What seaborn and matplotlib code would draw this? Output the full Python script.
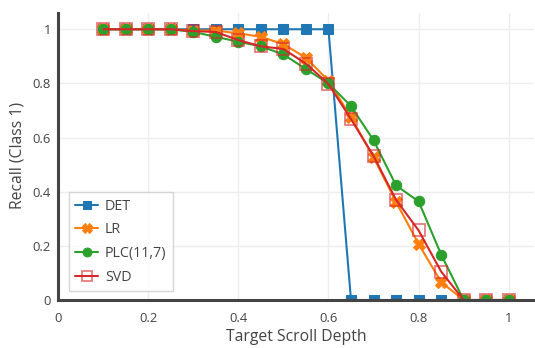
import numpy as np
import pandas as pd
import matplotlib
matplotlib.use("Agg")
import matplotlib.pyplot as plt
import seaborn as sns

depth = [0.1, 0.15, 0.2, 0.25, 0.3, 0.35, 0.4, 0.45, 0.5, 0.55,
         0.6, 0.65, 0.7, 0.75, 0.8, 0.85, 0.9, 0.95, 1.0]
det = [1, 1, 1, 1, 1, 1, 1, 1, 1, 1, 1, 0, 0, 0, 0, 0, 0, 0, 0]
lr = [1, 1, 1, 1, 0.995, 0.995, 0.985, 0.972, 0.945, 0.895,
      0.81, 0.675, 0.527, 0.362, 0.207, 0.066, 0, 0, 0]
plc = [1, 1, 1, 1, 0.99, 0.972, 0.954, 0.937, 0.907, 0.853,
       0.8, 0.716, 0.590, 0.423, 0.364, 0.168, 0, 0, 0]
svd = [1, 1, 1, 1, 0.993, 0.99, 0.96, 0.937, 0.927, 0.873,
       0.798, 0.668, 0.532, 0.370, 0.257, 0.105, 0, 0, 0]
series_names = ["DET", "LR", "PLC(11,7)", "SVD"]
x_ticks = [0, 0.2, 0.4, 0.6, 0.8, 1]
x_tick_labels = ["0", "0.2", "0.4", "0.6", "0.8", "1"]
y_ticks = [0, 0.2, 0.4, 0.6, 0.8, 1]
y_tick_labels = ["0", "0.2", "0.4", "0.6", "0.8", "1"]

sns.set_theme(style="white")
plt.rcParams['font.family'] = ['Open Sans', 'DejaVu Sans']

fig = plt.figure(figsize=(5.35, 3.48), dpi=100)
ax = fig.add_axes([58 / 535, 1 - 300 / 348, (534 - 58) / 535, (300 - 13) / 348])

colors = ["#1f77b4", "#ff7f0e", "#2ca02c", "#d62728"]
data = [det, lr, plc, svd]
styles = [
    dict(marker="s", markersize=7, markerfacecolor=colors[0], markeredgecolor=colors[0]),
    dict(marker="X", markersize=8, markerfacecolor=colors[1], markeredgecolor=colors[1]),
    dict(marker="o", markersize=7.5, markerfacecolor=colors[2], markeredgecolor=colors[2]),
    dict(marker="s", markersize=8.5, markerfacecolor="none",
         markeredgecolor=(0.84, 0.15, 0.16, 0.6), markeredgewidth=1.3),
]
for name, vals, col, st in zip(series_names, data, colors, styles):
    df = pd.DataFrame({"x": depth, "y": vals})
    sns.lineplot(data=df, x="x", y="y", ax=ax, color=col, linewidth=1.5,
                 label=name, zorder=3, **st)

ax.set_xlim(0, 1.056)
ax.set_ylim(0, 1.06)
ax.set_xticks(x_ticks)
ax.set_xticklabels(x_tick_labels)
ax.set_yticks(y_ticks)
ax.set_yticklabels(y_tick_labels)
ax.grid(True, color="#eeeeee", linewidth=1)
ax.set_axisbelow(True)
for s in ["top", "right"]:
    ax.spines[s].set_visible(False)
for s in ["left", "bottom"]:
    ax.spines[s].set_color("#444444")
    ax.spines[s].set_linewidth(2.2)
    ax.spines[s].set_zorder(5)
ax.tick_params(axis="x", colors="#444444", labelsize=9.4, length=0, pad=9)
ax.tick_params(axis="y", colors="#444444", labelsize=9.4, length=0, pad=5)
ax.set_xlabel("Target Scroll Depth", fontsize=11.3, color="#444444")
ax.set_ylabel("Recall (Class 1)", fontsize=11.3, color="#444444")
ax.xaxis.set_label_coords((296 - 58) / 476, (300 - 337) / 287)
ax.xaxis.label.set_va("center")
ax.yaxis.set_label_coords((18 - 58) / 476, (300 - 155) / 287)
ax.yaxis.label.set_va("center")

leg = ax.legend(loc="lower left", bbox_to_anchor=((69 - 58) / 476, (300 - 291) / 287),
                fontsize=10.3, frameon=True, fancybox=False, handlelength=1.6,
                handletextpad=0.45, borderpad=0.45, labelspacing=0.6,
                borderaxespad=0, markerscale=0.85)
leg.get_frame().set_edgecolor("#cccccc")
leg.get_frame().set_linewidth(1)
for t in leg.get_texts():
    t.set_color("#444444")

fig.savefig("out.png", dpi=100)
